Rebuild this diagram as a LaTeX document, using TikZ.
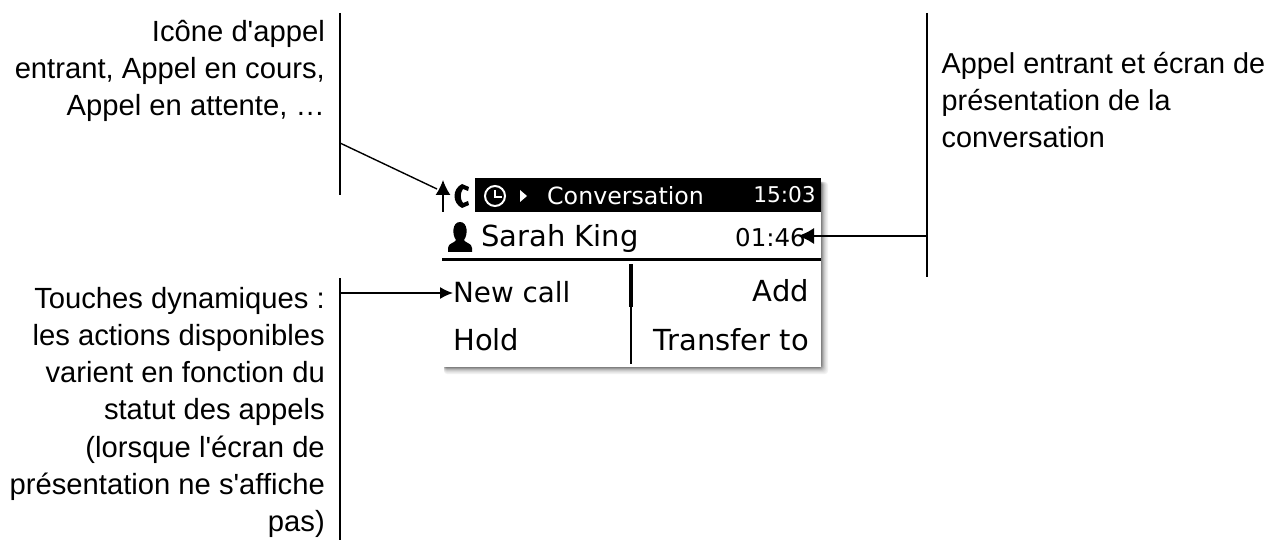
\documentclass[tikz,border=0pt]{standalone}
\usepackage{fontspec}
\newfontfamily\lbf{Liberation Sans}
\newfontfamily\scr{DejaVu Sans}
\usetikzlibrary{arrows.meta}
\tikzset{
 x=1pt,y=-1pt,
 lead/.style={line width=1.2pt,black},
 conn/.style={line width=1.4pt,black,-{Latex[length=13pt,width=12pt]}},
 connb/.style={line width=1.4pt,black,-{Latex[length=16pt,width=16pt]}},
 lbl/.style={font=\lbf\fontsize{29.2}{37.2}\selectfont,inner sep=0pt,align=right,anchor=north east},
 lbr/.style={font=\lbf\fontsize{28.8}{37.2}\selectfont,inner sep=0pt,align=left,anchor=north west},
 scrt/.style={font=\scr\fontsize{29}{30}\selectfont,inner sep=0pt,anchor=base west},
 scrr/.style={font=\scr\fontsize{29}{30}\selectfont,inner sep=0pt,anchor=base east},
}
\begin{document}
\begin{tikzpicture}
\useasboundingbox (0,0) rectangle (1272,540);
% shadow
\foreach \o/\c in {7/5,6/9,5/14,4/20,3/28,2/38,1/50}{
  \fill[black!\c,rounded corners=3pt] (444,182) rectangle (821+\o,367+\o);
}
\fill[white] (442,178) rectangle (821,367);
\fill[black] (475,178) rectangle (821,212);
% leaders
\coordinate (l1a) at (340,13); \coordinate (l1b) at (340,195);
\coordinate (l2a) at (340,278); \coordinate (l2b) at (340,540);
\coordinate (l3a) at (927,13); \coordinate (l3b) at (927,277);
\draw[lead] (l1a)--(l1b);
\draw[lead] (l2a)--(l2b);
\draw[lead] (l3a)--(l3b);
% dividers
\coordinate (h1) at (442,259.5); \coordinate (h2) at (821,259.5);
\draw[line width=3pt] (h1)--(h2);
\coordinate (v1) at (630.5,264); \coordinate (v2) at (630.5,364); \coordinate (v3) at (630.5,307);
\draw[line width=2pt] (v1)--(v2);
\draw[line width=4pt] (v1)--(v3);
% texts
\node[lbl] (t1) at (325,20) {Icône d'appel\\entrant, Appel en cours,\\Appel en attente, …};
\node[lbl] (t2) at (325,287) {Touches dynamiques :\\les actions disponibles\\varient en fonction du\\statut des appels\\(lorsque l'écran de\\présentation ne s'affiche\\pas)};
\node[lbr] (t3) at (941.5,52) {Appel entrant et écran de\\présentation de la\\conversation};
% screen text
\node[scrt,white,font=\scr\fontsize{23.7}{24}\selectfont] (s1) at (547,205) {Conversation};
\node[scrr,white,font=\scr\fontsize{21.7}{24}\selectfont] (s2) at (816,203) {15:03};
\node[scrt] (s3) at (481,247) {Sarah King};
\node[scrr,font=\scr\fontsize{24.5}{24}\selectfont] (s4) at (806,247) {01:46};
\node[scrt,font=\scr\fontsize{27.8}{30}\selectfont] (s5) at (453,302) {New call};
\node[scrr] (s6) at (809,301) {Add};
\node[scrt] (s7) at (453,350) {Hold};
\node[scrr] (s8) at (809,350) {Transfer to};
% icons
\draw[white,line width=2pt] (495,196) circle (10pt);
\draw[white,line width=2pt] (495,190)--(495,197)--(502,197);
\fill[white] (520,190)--(527,196)--(520,202)--cycle;
\fill[black] (462,184) .. controls (452,189) and (452,203) .. (462,208) -- (469,205) -- (468,201) -- (463,203) .. controls (460,199) and (460,193) .. (463,189) -- (468,191) -- (469,187) -- cycle;
\fill[black] (448,252) -- (472,252) -- (472,248) .. controls (472,243) and (465,243) .. (464,240) .. controls (468,235) and (468,222) .. (460,222) .. controls (452,222) and (452,235) .. (456,240) .. controls (455,243) and (448,243) .. (448,248) -- cycle;
% connectors
\coordinate (c1) at (340,143); \coordinate (c1e) at (437,189);
\coordinate (c2) at (340,293); \coordinate (c2e) at (453,293);
\coordinate (c3) at (927,236); \coordinate (c3e) at (798,236);
\coordinate (c4) at (443,212); \coordinate (c4e) at (443,180);
\draw[line width=1.4pt] (c1)--(c1e);
\draw[conn,-{Latex[length=15pt,width=15pt]}] (c4)--(c4e);
\draw[conn] (c2)--(c2e);
\draw[connb] (c3)--(c3e);
\end{tikzpicture}
\end{document}
